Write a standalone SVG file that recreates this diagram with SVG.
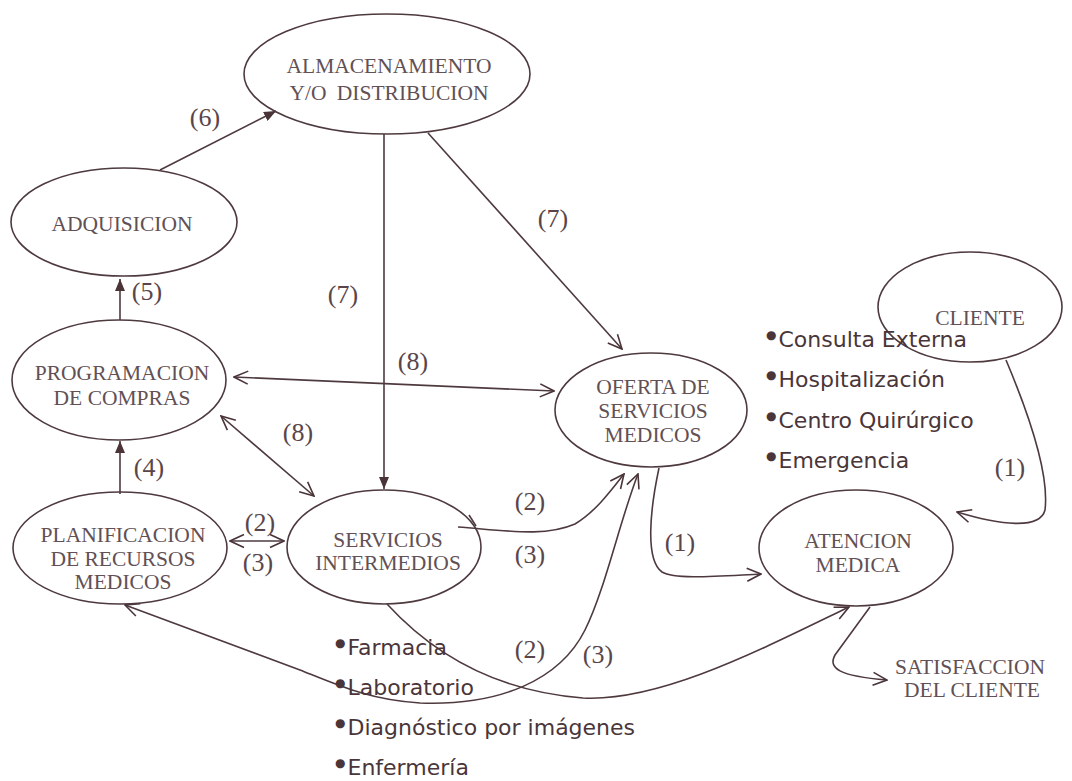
<svg xmlns="http://www.w3.org/2000/svg" width="1072" height="781" viewBox="0 0 1072 781">
  <style>
    .node ellipse { fill: none; stroke: #4e3a3e; stroke-width: 1.6; }
    .node text { font-family: "Liberation Serif", "Times New Roman", serif; font-size: 21.5px; fill: #625054; text-anchor: middle; }
    .edge { fill: none; stroke: #4e3a3e; stroke-width: 1.6; }
    .lbl { font-family: "Liberation Serif", "Times New Roman", serif; font-size: 26px; fill: #5a464a; text-anchor: middle; }
    .item { font-family: "DejaVu Sans", "Verdana", sans-serif; font-size: 22px; fill: #4a3539; }
    .dot { font-size: 12px; }
  </style>
  <defs>
    <marker id="tri" viewBox="0 0 12 10" refX="12" refY="5" markerWidth="12" markerHeight="10" markerUnits="userSpaceOnUse" orient="auto-start-reverse">
      <path d="M0,0 L12,5 L0,10 z" fill="#4a3438"/>
    </marker>
    <marker id="vee" viewBox="0 0 16 16" refX="15" refY="8" markerWidth="16" markerHeight="16" markerUnits="userSpaceOnUse" orient="auto-start-reverse">
      <path d="M1,1.5 L15,8 L1,14.5" fill="none" stroke="#4a3438" stroke-width="1.6"/>
    </marker>
  </defs>
  <rect width="1072" height="781" fill="#ffffff"/>

  <!-- connectors -->
  <g id="connectors">
    <path class="edge" d="M160,170 L276,111" marker-end="url(#tri)"/>
    <path class="edge" d="M120,320 L120,279" marker-end="url(#tri)"/>
    <path class="edge" d="M120,494 L120,441" marker-end="url(#tri)"/>
    <path class="edge" d="M384,134 L384,489" marker-end="url(#tri)"/>
    <path class="edge" d="M428,133 L622,349" marker-end="url(#vee)"/>
    <path class="edge" d="M234,377 L554,391" marker-start="url(#vee)" marker-end="url(#vee)"/>
    <path class="edge" d="M221,416 L314,496" marker-start="url(#vee)" marker-end="url(#vee)"/>
    <path class="edge" d="M230,541 L284,541" marker-start="url(#vee)" marker-end="url(#vee)"/>
    <path class="edge" d="M458,527 C510,531 545,537 575,524 C595,512 610,492 624,474" marker-end="url(#vee)"/>
    <path class="edge" d="M469,515 L476,526"/>
    <path class="edge" d="M125,605 L300,670 C340,686 370,700 420,703 C500,706 560,680 585,630 C605,590 620,520 638,474" marker-start="url(#vee)" marker-end="url(#vee)"/>
    <path class="edge" d="M387,604 C420,640 480,690 583,698 C660,702 760,650 849,607" marker-end="url(#vee)"/>
    <path class="edge" d="M659,468 C650,510 645,560 662,572 C675,580 720,576 761,574" marker-end="url(#vee)"/>
    <path class="edge" d="M1006,360 C1025,405 1050,470 1045,510 C1040,530 1000,525 957,512" marker-end="url(#vee)"/>
    <path class="edge" d="M870,607 L835,655 C828,668 838,676 887,680" marker-end="url(#vee)"/>
  </g>

  <!-- nodes -->
  <g id="almacenamiento" class="node">
    <ellipse cx="387" cy="74" rx="143" ry="60"/>
    <text x="389" y="73">ALMACENAMIENTO</text>
    <text x="389" y="100" word-spacing="5">Y/O DISTRIBUCION</text>
  </g>
  <g id="adquisicion" class="node">
    <ellipse cx="124" cy="222" rx="113" ry="54"/>
    <text x="122" y="231">ADQUISICION</text>
  </g>
  <g id="programacion" class="node">
    <ellipse cx="119" cy="380" rx="107" ry="60"/>
    <text x="122" y="380">PROGRAMACION</text>
    <text x="122" y="405">DE COMPRAS</text>
  </g>
  <g id="planificacion" class="node">
    <ellipse cx="120" cy="548" rx="107" ry="56"/>
    <text x="123" y="542">PLANIFICACION</text>
    <text x="123" y="566">DE RECURSOS</text>
    <text x="123" y="589">MEDICOS</text>
  </g>
  <g id="servicios-intermedios" class="node">
    <ellipse cx="384" cy="547" rx="97" ry="57"/>
    <text x="388" y="547">SERVICIOS</text>
    <text x="388" y="570">INTERMEDIOS</text>
  </g>
  <g id="oferta" class="node">
    <ellipse cx="651" cy="410" rx="96" ry="57"/>
    <text x="653" y="394">OFERTA DE</text>
    <text x="653" y="418">SERVICIOS</text>
    <text x="653" y="442">MEDICOS</text>
  </g>
  <g id="cliente" class="node">
    <ellipse cx="970" cy="307" rx="92" ry="55"/>
    <text x="980" y="325">CLIENTE</text>
  </g>
  <g id="atencion" class="node">
    <ellipse cx="856" cy="548" rx="97" ry="58"/>
    <text x="858" y="548">ATENCION</text>
    <text x="858" y="572">MEDICA</text>
  </g>
  <g id="satisfaccion" class="node">
    <text x="970" y="674">SATISFACCION</text>
    <text x="972" y="697">DEL CLIENTE</text>
  </g>

  <!-- flow numbers -->
  <g id="labels">
    <text class="lbl" x="205" y="126">(6)</text>
    <text class="lbl" x="553" y="227">(7)</text>
    <text class="lbl" x="343" y="303">(7)</text>
    <text class="lbl" x="147" y="300">(5)</text>
    <text class="lbl" x="413" y="370">(8)</text>
    <text class="lbl" x="298" y="441">(8)</text>
    <text class="lbl" x="149" y="476">(4)</text>
    <text class="lbl" x="260" y="531">(2)</text>
    <text class="lbl" x="258" y="571">(3)</text>
    <text class="lbl" x="530" y="510">(2)</text>
    <text class="lbl" x="530" y="563">(3)</text>
    <text class="lbl" x="680" y="551">(1)</text>
    <text class="lbl" x="530" y="658">(2)</text>
    <text class="lbl" x="598" y="663">(3)</text>
    <text class="lbl" x="1010" y="476">(1)</text>
  </g>

  <!-- service lists -->
  <g id="lista-oferta" class="item">
    <text x="766" y="347"><tspan class="dot" dy="-8">●</tspan><tspan dx="2" dy="8">Consulta Externa</tspan></text>
    <text x="766" y="387"><tspan class="dot" dy="-8">●</tspan><tspan dx="2" dy="8">Hospitalización</tspan></text>
    <text x="766" y="428"><tspan class="dot" dy="-8">●</tspan><tspan dx="2" dy="8">Centro Quirúrgico</tspan></text>
    <text x="766" y="468"><tspan class="dot" dy="-8">●</tspan><tspan dx="2" dy="8">Emergencia</tspan></text>
  </g>
  <g id="lista-intermedios" class="item">
    <text x="335" y="655"><tspan class="dot" dy="-8">●</tspan><tspan dx="2" dy="8">Farmacia</tspan></text>
    <text x="335" y="695"><tspan class="dot" dy="-8">●</tspan><tspan dx="2" dy="8">Laboratorio</tspan></text>
    <text x="335" y="735"><tspan class="dot" dy="-8">●</tspan><tspan dx="2" dy="8">Diagnóstico por imágenes</tspan></text>
    <text x="335" y="775"><tspan class="dot" dy="-8">●</tspan><tspan dx="2" dy="8">Enfermería</tspan></text>
  </g>
</svg>
